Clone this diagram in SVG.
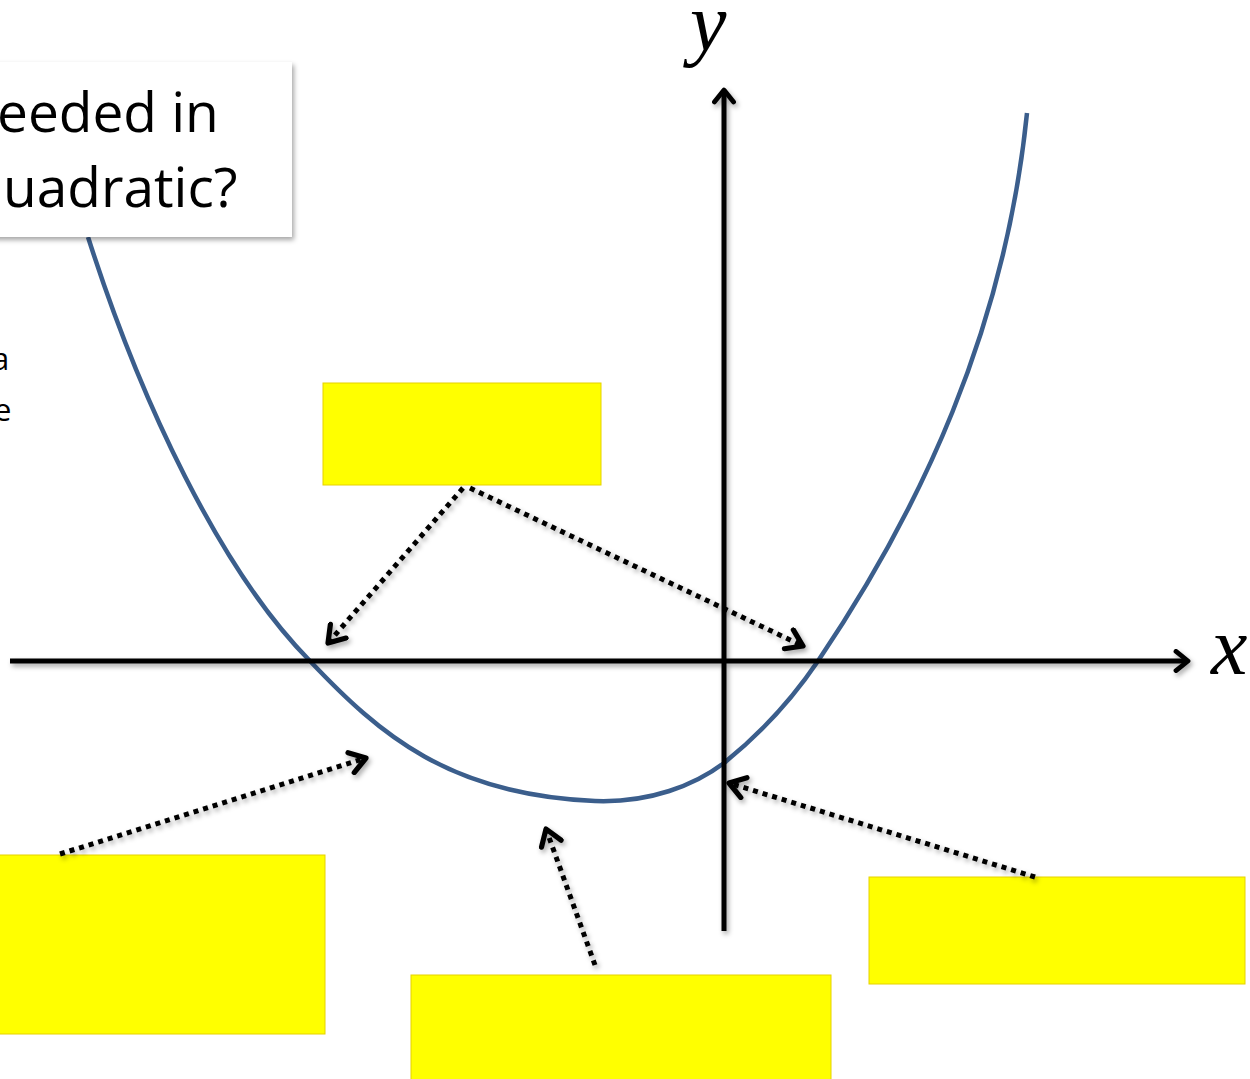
<svg xmlns="http://www.w3.org/2000/svg" width="1250" height="1079" viewBox="0 0 1250 1079">
<defs>
<filter id="sh" x="-20%" y="-20%" width="140%" height="140%">
<feDropShadow dx="2" dy="3" stdDeviation="2.5" flood-color="#000" flood-opacity="0.35"/>
</filter>
<marker id="solid" viewBox="0 0 20 20" refX="16" refY="10" markerWidth="24" markerHeight="24" markerUnits="userSpaceOnUse" orient="auto">
<path d="M6,2 L16,10 L6,18" fill="none" stroke="#000" stroke-width="4" stroke-linecap="round" stroke-linejoin="round"/>
</marker>
<marker id="open" viewBox="0 0 20 20" refX="16" refY="10" markerWidth="26" markerHeight="26" markerUnits="userSpaceOnUse" orient="auto">
<path d="M4,2 L16,10 L4,18" fill="none" stroke="#000" stroke-width="4" stroke-linecap="round" stroke-linejoin="round"/>
</marker>
<style>
.yb{fill:#FFFF00;stroke:#E6D200;stroke-width:1}
.ax{stroke:#000;stroke-width:5;fill:none}
.dot{stroke:#000;stroke-width:5;fill:none;stroke-dasharray:5 5}
.lbl{font-family:"Open Sans","Noto Sans",sans-serif;fill:#000}
.var{font-family:"Liberation Serif",serif;font-style:italic;fill:#000}
</style>
</defs>
<rect width="1250" height="1079" fill="#fff"/>
<g id="curve">
<path d="M88,237 C140,400 220,570 310,661 C380,735 450,795 595,801 C650,803 695,785 724,763 C765,730 795,695 818,661 C920,510 1005,330 1027,113" fill="none" stroke="#3B5E8C" stroke-width="4.5"/>
</g>
<g id="question" filter="url(#sh)">
<rect x="-10" y="62" width="302" height="175" fill="#fff"/>
<text class="lbl" x="-3" y="132" font-size="55">eeded in</text>
<text class="lbl" x="3" y="207" font-size="55">uadratic?</text>
</g>
<g id="sidenote">
<text class="lbl" x="-8" y="370" font-size="31">a</text>
<text class="lbl" x="-6" y="421" font-size="31">e</text>
</g>
<g id="axes" filter="url(#sh)">
<line class="ax" x1="724" y1="931" x2="724" y2="90" marker-end="url(#solid)"/>
<line class="ax" x1="10" y1="661" x2="1188" y2="661" marker-end="url(#solid)"/>
</g>
<g id="axis-labels">
<text class="var" x="690" y="50" font-size="82">y</text>
<text class="var" x="1211" y="674" font-size="82">x</text>
</g>
<g id="box-roots"><rect class="yb" x="323" y="383" width="278" height="102"/></g>
<g id="box-left"><rect class="yb" x="-2" y="855" width="327" height="179"/></g>
<g id="box-vertex"><rect class="yb" x="411" y="975" width="420" height="106"/></g>
<g id="box-intercept"><rect class="yb" x="869" y="877" width="376" height="107"/></g>
<g id="connectors" filter="url(#sh)">
<path class="dot" d="M463,488 L328,643" marker-end="url(#open)"/>
<path class="dot" d="M470,488 L803,646" marker-end="url(#open)"/>
<path class="dot" d="M60,854 L366,758" marker-end="url(#open)"/>
<path class="dot" d="M595,965 L546,829" marker-end="url(#open)"/>
<path class="dot" d="M1035,877 L729,783" marker-end="url(#open)"/>
</g>
</svg>
